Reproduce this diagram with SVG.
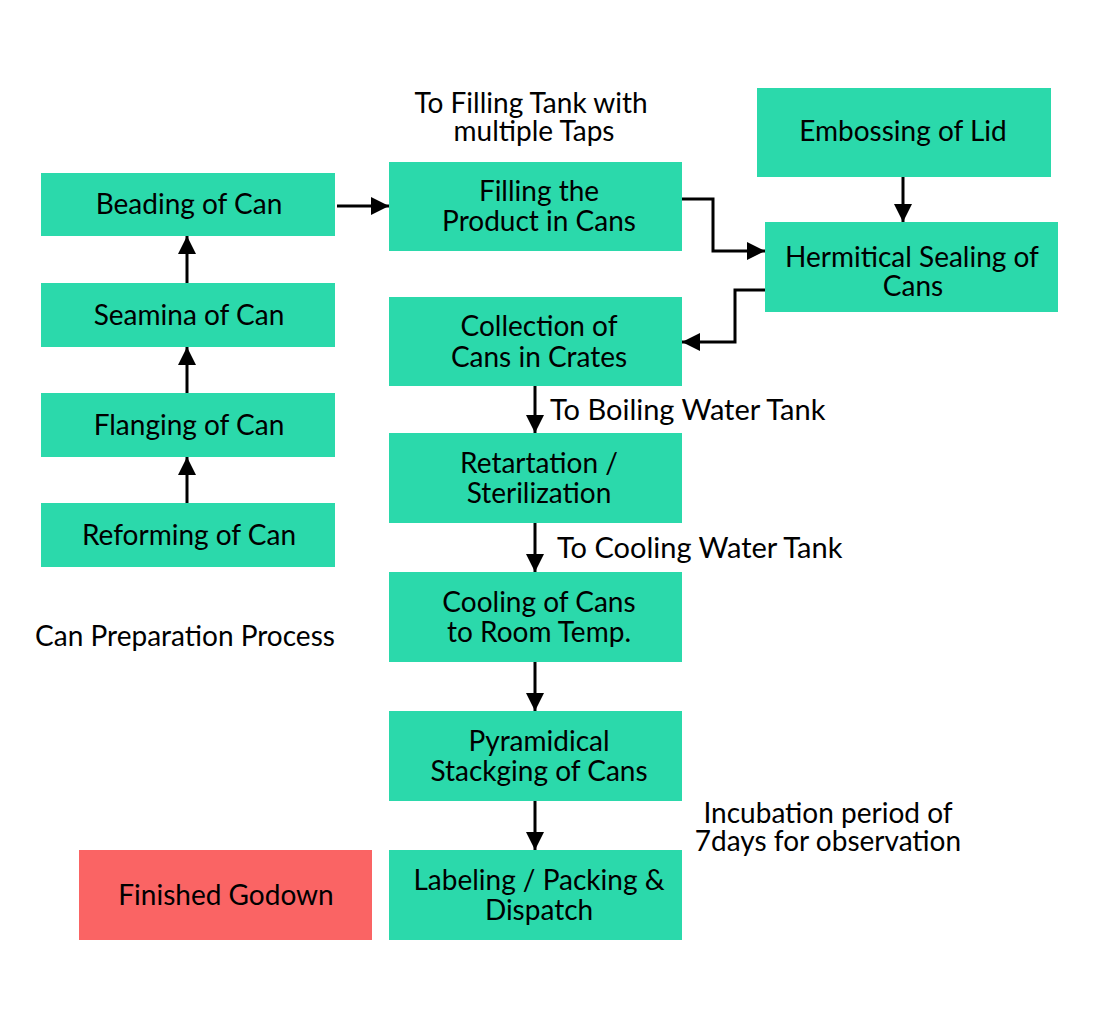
<svg xmlns="http://www.w3.org/2000/svg" width="1095" height="1027" viewBox="0 0 1095 1027">
<style>
.n{fill:#2bd9ab;}
.r{fill:#fa6464;}
text{font-family:Lato,"Open Sans","Liberation Sans",sans-serif;font-size:28px;fill:#000;text-anchor:middle;}
.s{text-anchor:start;font-size:29px;}
.c{fill:none;stroke:#000;stroke-width:3;}
</style>
<defs>
<marker id="a" viewBox="0 0 6 6" refX="6" refY="3" markerWidth="6" markerHeight="6" markerUnits="strokeWidth" orient="auto">
<path d="M0,0 L6,3 L0,6 Z" fill="#000"/>
</marker>
</defs>
<rect width="1095" height="1027" fill="#fff"/>
<g id="connectors">
<path class="c" d="M187,503 V457" marker-end="url(#a)"/>
<path class="c" d="M187,393 V347" marker-end="url(#a)"/>
<path class="c" d="M187,283 V236" marker-end="url(#a)"/>
<path class="c" d="M337,206 H389" marker-end="url(#a)"/>
<path class="c" d="M682,199 H713 V251 H765" marker-end="url(#a)"/>
<path class="c" d="M903,177 V222" marker-end="url(#a)"/>
<path class="c" d="M765,290 H735 V342 H682" marker-end="url(#a)"/>
<path class="c" d="M535,386 V433" marker-end="url(#a)"/>
<path class="c" d="M535,523 V572" marker-end="url(#a)"/>
<path class="c" d="M535,662 V711" marker-end="url(#a)"/>
<path class="c" d="M535,801 V850" marker-end="url(#a)"/>
</g>
<g id="beading"><rect class="n" x="41" y="173" width="294" height="63"/><text x="189" y="214">Beading of Can</text></g>
<g id="seamina"><rect class="n" x="41" y="283" width="294" height="64"/><text x="189" y="325">Seamina of Can</text></g>
<g id="flanging"><rect class="n" x="41" y="393" width="294" height="64"/><text x="189" y="435">Flanging of Can</text></g>
<g id="reforming"><rect class="n" x="41" y="503" width="294" height="64"/><text x="189" y="545">Reforming of Can</text></g>
<g id="filling"><rect class="n" x="389" y="162" width="293" height="89"/><text x="539" y="201">Filling the</text><text x="539" y="231">Product in Cans</text></g>
<g id="embossing"><rect class="n" x="757" y="88" width="294" height="89"/><text x="903" y="141">Embossing of Lid</text></g>
<g id="hermitical"><rect class="n" x="765" y="222" width="293" height="90"/><text x="912" y="267">Hermitical Sealing of</text><text x="913" y="296">Cans</text></g>
<g id="collection"><rect class="n" x="389" y="297" width="293" height="89"/><text x="539" y="336">Collection of</text><text x="539" y="367">Cans in Crates</text></g>
<g id="retartation"><rect class="n" x="389" y="433" width="293" height="90"/><text x="539" y="473">Retartation /</text><text x="539" y="503">Sterilization</text></g>
<g id="cooling"><rect class="n" x="389" y="572" width="293" height="90"/><text x="539" y="612">Cooling of Cans</text><text x="539" y="642">to Room Temp.</text></g>
<g id="pyramidical"><rect class="n" x="389" y="711" width="293" height="90"/><text x="539" y="751">Pyramidical</text><text x="539" y="781">Stackging of Cans</text></g>
<g id="labeling"><rect class="n" x="389" y="850" width="293" height="90"/><text x="539" y="890">Labeling / Packing &amp;</text><text x="539" y="920">Dispatch</text></g>
<g id="godown"><rect class="r" x="79" y="850" width="293" height="90"/><text x="226" y="905">Finished Godown</text></g>
<g id="labels">
<text x="531" y="113">To Filling Tank with</text>
<text x="534" y="141">multiple Taps</text>
<text class="s" x="550" y="420">To Boiling Water Tank</text>
<text class="s" x="557" y="558">To Cooling Water Tank</text>
<text x="185" y="646">Can Preparation Process</text>
<text x="828" y="823">Incubation period of</text>
<text x="828" y="851">7days for observation</text>
</g>
</svg>
